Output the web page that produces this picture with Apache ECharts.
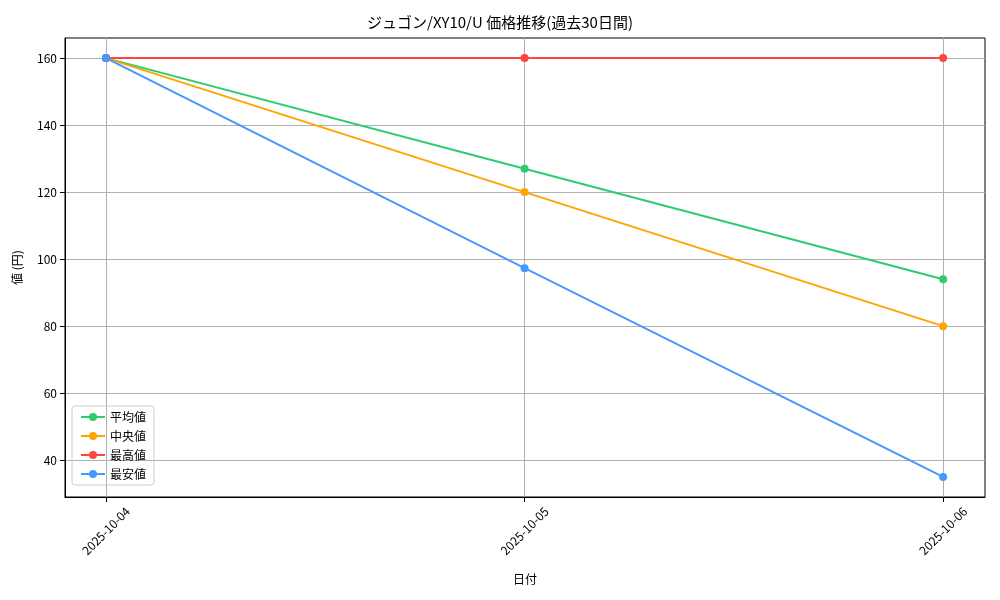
<!DOCTYPE html>
<html lang="ja">
<head>
<meta charset="UTF-8">
<script src="https://cdn.jsdelivr.net/npm/echarts@6/dist/echarts.min.js"></script>
</head>
<body style="margin:0;background:#fff">
<div id="chart" style="width:1000px;height:600px"></div>
<script>
    const dates = ["2025-10-04", "2025-10-05", "2025-10-06"];
    const avgValues = [160, 127, 94];
    const medianValues = [160, 120, 80];
    const maxValues = [160, 160, 160];
    const minValues = [160, 97.3, 35];
    const yTicks = [40, 60, 80, 100, 120, 140, 160];

    const font = "'Noto Sans CJK JP', sans-serif";
    const chart = echarts.init(document.getElementById('chart'));

    function line(name, values, color) {
        return {
            name: name, type: 'line', data: values.map((v, i) => [i, v]),
            symbol: 'circle', symbolSize: 8, animation: false,
            lineStyle: {color: color, width: 2}, itemStyle: {color: color}
        };
    }

    chart.setOption({
        textStyle: {fontFamily: font},
        title: {text: 'ジュゴン/XY10/U 価格推移(過去30日間)', left: 'center', top: 10,
            textStyle: {fontFamily: font, fontSize: 15, fontWeight: 'normal', color: '#000'}},
        grid: {left: 65, right: 15, top: 38, bottom: 103},
        legend: {
            orient: 'vertical', left: 72, top: 406, itemGap: 7, itemWidth: 24, itemHeight: 10,
            borderColor: '#ccc', borderWidth: 1, borderRadius: 3, padding: [5, 8],
            textStyle: {fontFamily: font, fontSize: 12, color: '#000'},
            data: ['平均値', '中央値', '最高値', '最安値']
        },
        xAxis: {
            type: 'value', min: -0.098, max: 2.1,
            name: '日付', nameLocation: 'middle', nameGap: 76,
            nameTextStyle: {fontFamily: font, color: '#000', fontSize: 12},
            axisLine: {show: true, onZero: false, lineStyle: {color: '#000'}},
            axisTick: {customValues: [0, 1, 2], lineStyle: {color: '#000'}},
            axisLabel: {customValues: [0, 1, 2], rotate: 45, color: '#000', fontSize: 12,
                align: 'center', verticalAlign: 'middle', margin: 34,
                formatter: v => dates[Math.round(v)] || ''},
            splitLine: {show: true, lineStyle: {color: '#b0b0b0'}}
        },
        yAxis: {
            type: 'value', min: 29, max: 166,
            name: '値 (円)', nameLocation: 'middle', nameGap: 42,
            nameTextStyle: {fontFamily: font, color: '#000', fontSize: 12},
            axisLine: {show: true, onZero: false, lineStyle: {color: '#000'}},
            axisTick: {show: true, customValues: yTicks, lineStyle: {color: '#000'}},
            axisLabel: {customValues: yTicks, color: '#000', fontSize: 12},
            splitLine: {show: true, lineStyle: {color: '#b0b0b0'}}
        },
        series: [
            line('平均値', avgValues, '#2ecc71'),
            line('中央値', medianValues, '#ffa500'),
            line('最高値', maxValues, '#ff4444'),
            line('最安値', minValues, '#4499ff')
        ],
        graphic: [{type: 'rect', shape: {x: 65, y: 38, width: 920, height: 459},
            style: {fill: 'none', stroke: '#000', lineWidth: 1}, silent: true}]
    });
</script>
</body>
</html>
